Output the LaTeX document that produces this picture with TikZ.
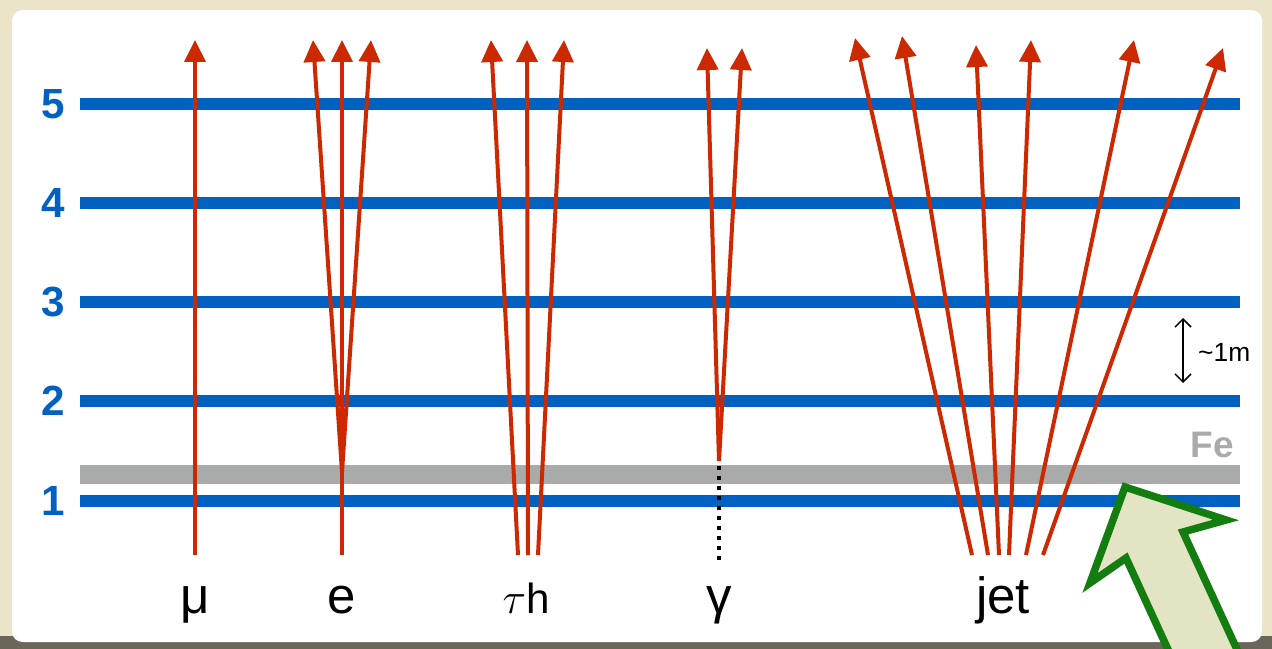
\documentclass[tikz,border=0pt]{standalone}
\usepackage{fontspec}
\setmainfont{Liberation Sans}
\usetikzlibrary{arrows.meta,positioning,calc}
\definecolor{paper}{RGB}{236,228,200}
\definecolor{layerblue}{RGB}{0,97,192}
\definecolor{ironmark}{RGB}{169,170,170}
\definecolor{trackred}{RGB}{204,41,0}
\definecolor{arrowgreen}{RGB}{20,125,15}
\definecolor{arrowfill}{RGB}{226,228,196}
\tikzset{
  layer/.style={layerblue,line width=0.24cm},
  iron/.style={ironmark,line width=0.38cm},
  stem/.style={trackred,line width=0.08cm},
  track/.style={stem,-{Triangle[length=0.44cm,width=0.42cm]}},
  unseen/.style={black,line width=0.08cm,dash pattern=on 0.08cm off 0.12cm},
  num/.style={layerblue,font=\fontsize{24}{24}\selectfont\bfseries},
  particle/.style={anchor=base,font=\fontsize{29}{29}\selectfont},
  bigarrow/.style={fill=arrowfill,draw=arrowgreen,line width=0.15cm,line join=miter},
}

\begin{document}
\begin{tikzpicture}[x=0.02cm,y=-0.02cm]
    \useasboundingbox (0,0) rectangle (1272,649);
    \clip (0,0) rectangle (1272,649);

    % paper and card
    \fill[paper] (0,0) rectangle (1272,649);
    \fill[black!55!paper] (0,636) rectangle (1272,649);
    \fill[white,rounded corners=6pt] (12,10) rectangle (1262,642);

    % detector layers
    \draw[iron] (80,474) -- (1240,474);
    \foreach \n/\y in {5/104,4/203,3/302,2/401,1/501}{
      \node[num] (lay\n) at (53,\y) {\n};
      \draw[layer] (80,\y) -- (1240,\y);
    }
    \node[ironmark,anchor=east,font=\fontsize{21}{21}\selectfont\bfseries] (fe) at (1240,445) {Fe};

    % layer spacing
    \coordinate (gaptop) at (1183,318);
    \coordinate (gapbot) at (1183,383);
    \draw[{Straight Barb[length=1.6mm]}-{Straight Barb[length=1.6mm]},line width=0.03cm] (gaptop) -- (gapbot);
    \node[anchor=west,font=\fontsize{15}{15}\selectfont] (gap) at (1192,352) {\textasciitilde1m};

    % muon
    \coordinate (mu0) at (195,555);
    \coordinate (mu1) at (195,40);
    \draw[track] (mu0) -- (mu1);

    % electron shower
    \coordinate (el0) at (342,555);
    \coordinate (el1) at (342,472);
    \draw[stem] (el0) -- (el1);
    \foreach \n/\x in {1/313,2/342,3/371}{
      \coordinate (elt\n) at (\x,40);
      \draw[track] (el1) -- (elt\n);
    }

    % tau prongs
    \foreach \n/\xa/\xb in {1/518/491,2/528/527,3/538/564}{
      \coordinate (tau\n) at (\xa,555);
      \coordinate (taut\n) at (\xb,40);
      \draw[track] (tau\n) -- (taut\n);
    }

    % photon
    \coordinate (ph0) at (719,560);
    \coordinate (ph1) at (719,461);
    \draw[unseen] (ph0) -- (ph1);
    \foreach \n/\x in {1/707,2/742}{
      \coordinate (pht\n) at (\x,48);
      \draw[track] (ph1) -- (pht\n);
    }

    % jet
    \foreach \n/\xa/\xb/\yb in {1/972/855/38,2/988/902/36,3/999/976/45,
                                4/1009/1031/40,5/1026/1134/40,6/1043/1223/48}{
      \coordinate (jet\n) at (\xa,555);
      \coordinate (jett\n) at (\xb,\yb);
      \draw[track] (jet\n) -- (jett\n);
    }

    % particle names
    \node[particle] (lmu)  at (195,613)  {μ};
    \node[particle] (lel)  at (342,613)  {e};
    \node[particle] (ltau) at (526,613)  {\fontsize{32}{32}\selectfont$\tau$\fontsize{24}{24}\selectfont h};
    \node[particle] (lph)  at (719,613)  {γ};
    \node[particle] (ljet) at (1003,613) {jet};

    % pointer to the iron
    \draw[bigarrow] (1125,487) -- (1226,520) -- (1183,532) -- (1251,680)
      -- (1182,680) -- (1126,558) -- (1090,583) -- cycle;

\end{tikzpicture}
\end{document}
